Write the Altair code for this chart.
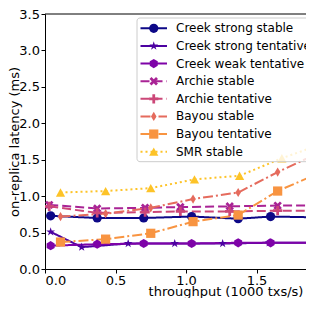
import altair as alt
import pandas as pd

# ---------------- data ----------------
series = ["Creek strong stable", "Creek strong tentative", "Creek weak tentative",
          "Archie stable", "Archie tentative", "Bayou stable", "Bayou tentative", "SMR stable"]
colors = ["#0d0887", "#4c02a1", "#7e03a8", "#a92395", "#cc4778", "#e56b5d", "#f89441", "#fdc328"]

creek_x = [0.04, 0.37, 0.70, 1.04, 1.37, 1.60, 1.90]
creek_strong_stable = [0.73, 0.70, 0.70, 0.72, 0.69, 0.72, 0.71]
creek_strong_tent_x = [0.04, 0.26, 0.59, 0.92, 1.26, 1.59, 1.92]
creek_strong_tentative = [0.51, 0.30, 0.35, 0.35, 0.35, 0.36, 0.36]
creek_weak_tentative = [0.32, 0.34, 0.35, 0.35, 0.36, 0.36, 0.36]
archie_x = [0.03, 0.37, 0.71, 0.96, 1.31, 1.65, 1.97]
archie_stable = [0.88, 0.83, 0.84, 0.85, 0.86, 0.87, 0.87]
archie_tentative = [0.86, 0.77, 0.78, 0.79, 0.79, 0.80, 0.80]
bayou_x = [0.11, 0.43, 0.75, 1.05, 1.37, 1.65, 1.96]
bayou_stable = [0.72, 0.76, 0.84, 0.96, 1.05, 1.33, 1.61]
bayou_tentative = [0.37, 0.41, 0.49, 0.65, 0.74, 1.07, 1.33]
smr_x = [0.11, 0.43, 0.75, 1.06, 1.38, 1.68, 1.97]
smr_stable = [1.05, 1.07, 1.11, 1.23, 1.28, 1.52, 1.72]

x_ticks = [0.0, 0.5, 1.0, 1.5]
y_ticks = [0.0, 0.5, 1.0, 1.5, 2.0, 2.5, 3.0, 3.5]

xs = [creek_x, creek_strong_tent_x, creek_x, archie_x, archie_x, bayou_x, bayou_x, smr_x]
ys = [creek_strong_stable, creek_strong_tentative, creek_weak_tentative,
      archie_stable, archie_tentative, bayou_stable, bayou_tentative, smr_stable]

rows = []
for i, (name, xv, yv) in enumerate(zip(series, xs, ys)):
    for a, b in zip(xv, yv):
        rows.append({"series": name, "x": a, "y": b, "k": i})
df = pd.DataFrame(rows)
leg_df = pd.DataFrame({"series": series})

# ---------------- styles ----------------
STAR = ("M0,-1L0.225,-0.309L0.951,-0.309L0.363,0.118L0.588,0.809L0,0.382"
        "L-0.588,0.809L-0.363,0.118L-0.951,-0.309L-0.225,-0.309Z")
HEX = "M0,-1L0.866,-0.5L0.866,0.5L0,1L-0.866,0.5L-0.866,-0.5Z"
XF = ("M0.495,-0.919L0.919,-0.495L0.424,0L0.919,0.495L0.495,0.919L0,0.424"
      "L-0.495,0.919L-0.919,0.495L-0.424,0L-0.919,-0.495L-0.495,-0.919L0,-0.424Z")
PF = "M-0.3,-1L0.3,-1L0.3,-0.3L1,-0.3L1,0.3L0.3,0.3L0.3,1L-0.3,1L-0.3,0.3L-1,0.3L-1,-0.3L-0.3,-0.3Z"
THIN_D = "M0,-1L0.6,0L0,1L-0.6,0Z"
TRI = "M0,-0.9L1,0.9L-1,0.9Z"
shapes = ["circle", STAR, HEX, XF, PF, THIN_D, "square", TRI]
dashes = [[1, 0], [1, 0], [1, 0], [9, 4], [9, 4], [10, 3, 2, 3], [10, 3, 2, 3], [2, 3]]

W, H = 261, 255
PX_PER_UNIT = 141.0
FONT = "DejaVu Sans"
LX = 92  # legend box left, relative to plot

color = alt.Color("series:N", scale=alt.Scale(domain=series, range=colors), legend=None)
shape = alt.Shape("series:N", scale=alt.Scale(domain=series, range=shapes), legend=None)
dash = alt.StrokeDash("series:N", scale=alt.Scale(domain=series, range=dashes), legend=None)

x_enc = alt.X("x:Q", scale=alt.Scale(domain=[0, W / PX_PER_UNIT], nice=False, zero=False),
              axis=alt.Axis(values=x_ticks, format=".1f", title="throughput (1000 txs/s)",
                            labelPadding=1.5,
                            titleX=180.5, titleY=26, titleBaseline="alphabetic",
                            titleAlign="center"))
y_enc = alt.Y("y:Q", scale=alt.Scale(domain=[0, 3.5], nice=False),
              axis=alt.Axis(values=y_ticks, format=".1f", title="on-replica latency (ms)",
                            labelPadding=1.5,
                            titleX=-26.5, titleY=127.5, titleBaseline="alphabetic",
                            titleAlign="center", titleAngle=-90))

lines = alt.Chart(df).mark_line(strokeWidth=2, clip=True).encode(
    x=x_enc, y=y_enc, color=color, strokeDash=dash, detail="series:N")
points = alt.Chart(df).mark_point(filled=True, opacity=1, size=85, clip=True).encode(
    x=x_enc, y=y_enc, color=color, shape=shape, order="k:Q")
top_border = alt.Chart(leg_df.head(1)).mark_rule(color="black", strokeWidth=1).encode(
    x=alt.value(0), x2=alt.value(W + 10), y=alt.value(0))

data_layer = alt.layer(lines, points, top_border)

leg_y = alt.Y("series:N", sort=series, axis=None,
              scale=alt.Scale(type="point", domain=series, range=[14.3, 137.7], padding=0))
leg_box = alt.Chart(leg_df.head(1)).mark_rect(
    fill="white", fillOpacity=0.8, stroke="#cccccc", strokeWidth=1, cornerRadius=3).encode(
    x=alt.value(LX), x2=alt.value(320), y=alt.value(4), y2=alt.value(147.7))
leg_line = alt.Chart(leg_df).mark_rule(strokeWidth=2).encode(
    x=alt.value(LX + 3.5), x2=alt.value(LX + 30), y=leg_y, color=color, strokeDash=dash)
leg_pt = alt.Chart(leg_df).mark_point(filled=True, opacity=1, size=85).encode(
    x=alt.value(LX + 16.75), y=leg_y, color=color, shape=shape)
leg_txt = alt.Chart(leg_df).mark_text(align="left", baseline="middle", fontSize=12,
                                      font=FONT, color="black").encode(
    x=alt.value(LX + 39), y=leg_y, text="series:N")
legend_layer = alt.layer(leg_box, leg_line, leg_pt, leg_txt)

chart = alt.layer(data_layer, legend_layer).resolve_scale(y="independent").properties(
    width=W, height=H, autosize="none",
    padding={"left": 37, "top": 6, "right": 0, "bottom": 29},
).configure_view(stroke=None).configure_axis(
    grid=False, domainColor="black", tickColor="black", labelColor="black",
    titleColor="black", labelFont=FONT, titleFont=FONT, labelFontSize=13,
    titleFontSize=13, titleFontWeight="normal", tickSize=4,
    domainWidth=1, tickWidth=1,
)

chart.save("out.html", embed_options={"renderer": "svg", "actions": False})
